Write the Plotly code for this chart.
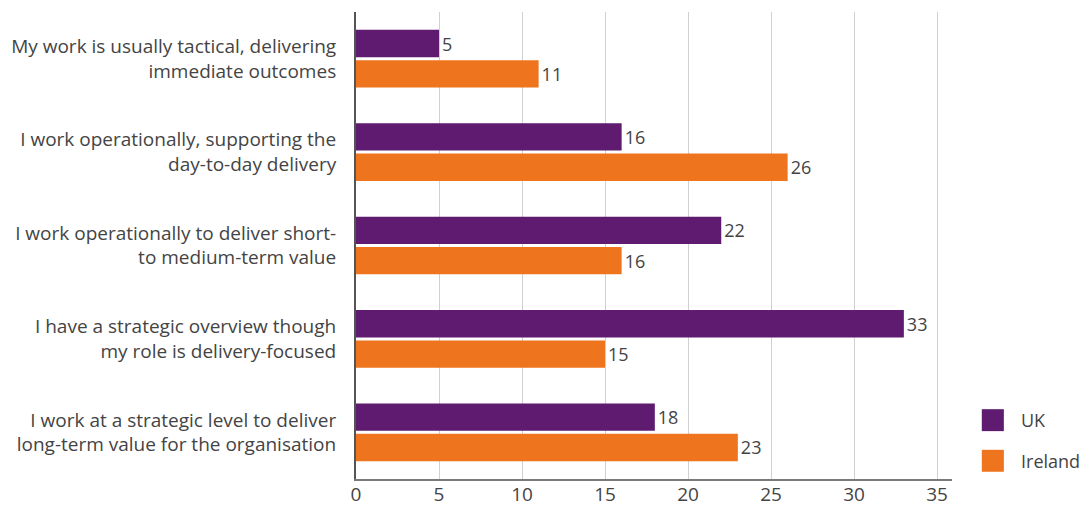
import plotly.graph_objects as go

categories = [
    "My work is usually tactical, delivering<br>immediate outcomes",
    "I work operationally, supporting the<br>day-to-day delivery",
    "I work operationally to deliver short-<br>to medium-term value",
    "I have a strategic overview though<br>my role is delivery-focused",
    "I work at a strategic level to deliver<br>long-term value for the organisation",
]
uk_values = [5, 16, 22, 33, 18]
ireland_values = [11, 26, 16, 15, 23]
series_names = ["UK", "Ireland"]
x_ticks = [0, 5, 10, 15, 20, 25, 30, 35]

PURPLE = "#5f1b6f"
ORANGE = "#ee741e"
TEXT = "#444444"
FONT = "Open Sans, Lato, sans-serif"

fig = go.Figure()
for name, vals, color in [(series_names[0], uk_values, PURPLE),
                          (series_names[1], ireland_values, ORANGE)]:
    fig.add_trace(go.Bar(
        name=name, y=categories, x=vals, orientation="h",
        marker=dict(color=color, line=dict(width=0)),
        text=[str(v) for v in vals], textposition="outside",
        textfont=dict(size=18, color=TEXT, family=FONT),
        cliponaxis=False, showlegend=False,
    ))

fig.update_layout(
    width=1085, height=507,
    margin=dict(l=356, r=133, t=12, b=28),
    paper_bgcolor="white", plot_bgcolor="white",
    barmode="group", bargap=0.35, bargroupgap=0.1,
    font=dict(family=FONT, color=TEXT, size=19),
    showlegend=False,
    xaxis=dict(
        range=[0, 35.9], tickvals=x_ticks, ticktext=[str(t) for t in x_ticks],
        showgrid=True, gridcolor="#d0d0d0", gridwidth=1,
        showline=True, linecolor="#7a7a7a", linewidth=2,
        zeroline=False, ticks="", ticklabelstandoff=-3,
        tickfont=dict(size=19, color=TEXT), automargin=False,
    ),
    yaxis=dict(
        autorange="reversed", showgrid=False,
        showline=True, linecolor="#555555", linewidth=2,
        ticks="", ticklabelstandoff=14, automargin=False,
        tickfont=dict(size=19, color=TEXT),
    ),
)

# Legend drawn as swatches with labels at the lower right
legend_items = [(series_names[0], PURPLE, 0.126), (series_names[1], ORANGE, 0.039)]
for label, color, ypos in legend_items:
    fig.add_shape(type="rect", xref="paper", yref="paper",
                  x0=1.050, x1=1.087, y0=ypos - 0.0235, y1=ypos + 0.0235,
                  fillcolor=color, line=dict(width=0))
    fig.add_annotation(text=label, xref="paper", yref="paper",
                       x=1.112, y=ypos, xanchor="left", yanchor="middle",
                       showarrow=False, font=dict(size=18, color=TEXT, family=FONT))

fig.write_html("out.html")
